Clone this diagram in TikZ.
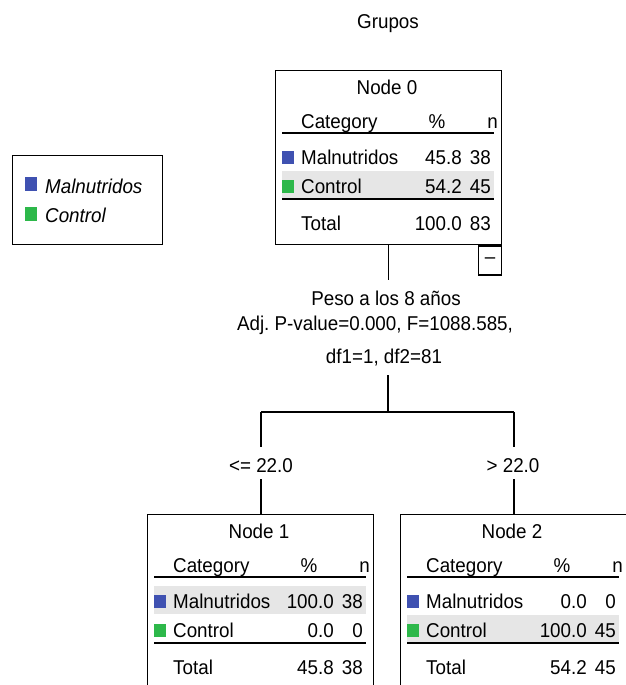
\documentclass[tikz,border=0pt]{standalone}
\usepackage{fontspec}
\setmainfont[FakeStretch=0.94]{Liberation Sans}
\usetikzlibrary{calc}
\frenchspacing
\definecolor{malblue}{HTML}{3F51B1}
\definecolor{ctrgreen}{HTML}{2DB84A}
\definecolor{hlgray}{HTML}{E6E6E6}
\tikzset{
  txt/.style={font=\fontsize{20}{24}\selectfont, inner sep=0pt, text=black},
  boxframe/.style={draw, line width=1.3pt, minimum width=226pt, minimum height=174pt, anchor=north west, inner sep=0pt},
  rulethick/.style={line width=1.8pt},
  conn/.style={line width=1.3pt},
  swatch/.style={minimum width=12pt, minimum height=13pt, inner sep=0pt, anchor=west},
}
% #1 highlighted row, #2 node number, #3 position, #4 p1, #5 n1, #6 p2, #7 n2, #8 ptotal, #9 ntotal
\newcommand\treebox[9][1]{%
  \begin{scope}[shift={#3}]
    \fill[hlgray] (7,{43+29*#1}) rectangle (219,{71+29*#1});
    \node[boxframe] (node#2) at (0,0) {};
    \node[txt, anchor=base] (node#2title) at (112,24) {Node #2};
    \node[txt, anchor=base west] (node#2cat) at (26,58) {Category};
    \node[txt, anchor=base] (node#2pct) at (162,58) {\%};
    \node[txt, anchor=base east] (node#2n) at (223,58) {n};
    \draw[rulethick] (7,63) -- (219,63);
    \node[swatch, fill=malblue] (node#2sw1) at (7,87) {};
    \node[txt, anchor=base west] (node#2l1) at (26,94) {Malnutridos};
    \node[txt, anchor=base east] (node#2p1) at (187,94) {#4};
    \node[txt, anchor=base east] (node#2n1) at (216,94) {#5};
    \node[swatch, fill=ctrgreen] (node#2sw2) at (7,116) {};
    \node[txt, anchor=base west] (node#2l2) at (26,123) {Control};
    \node[txt, anchor=base east] (node#2p2) at (187,123) {#6};
    \node[txt, anchor=base east] (node#2n2) at (216,123) {#7};
    \draw[rulethick] (7,129) -- (219,129);
    \node[txt, anchor=base west] (node#2lt) at (26,160) {Total};
    \node[txt, anchor=base east] (node#2pt) at (187,160) {#8};
    \node[txt, anchor=base east] (node#2nt) at (216,160) {#9};
  \end{scope}%
}
\begin{document}
\begin{tikzpicture}[x=1pt, y=-1pt]
\useasboundingbox (0,0) rectangle (626,685);

\node[txt, anchor=base] (title) at (388,29) {Grupos};

% legend
\node[draw, line width=1.3pt, minimum width=150pt, minimum height=89pt, anchor=north west, inner sep=0pt] (legend) at (12,155) {};
\node[swatch, minimum height=14pt, fill=malblue] (legsw1) at (25,184) {};
\node[txt, anchor=base west] (legl1) at (45,193) {\itshape Malnutridos};
\node[swatch, minimum height=14pt, fill=ctrgreen] (legsw2) at (25,214) {};
\node[txt, anchor=base west] (legl2) at (45,222) {\itshape Control};

% nodes
\treebox[2]{0}{(275,70)}{45.8}{38}{54.2}{45}{100.0}{83}
\node[draw, line width=1.3pt, minimum width=23pt, minimum height=29pt, anchor=north east, inner sep=0pt] (collapse) at (node0.south east) {};
\node[txt, anchor=center] (collapsesign) at (collapse.center) {–};

\treebox[1]{1}{(147,514)}{100.0}{38}{0.0}{0}{45.8}{38}
\treebox[2]{2}{(400,514)}{0.0}{0}{100.0}{45}{54.2}{45}

% split text
\node[txt, anchor=base] (splitA) at (386,305) {Peso a los 8 años};
\node[txt, anchor=base] (splitB) at (375,330) {Adj. P-value=0.000, F=1088.585,};
\node[txt, anchor=base] (splitC) at (384,363) {df1=1, df2=81};

% branch labels
\node[txt, anchor=base] (le) at (261,472) {<= 22.0};
\node[txt, anchor=base] (gt) at (513,472) {> 22.0};

% connectors
\coordinate (stem0) at (388,280);
\coordinate (forkTop) at (388,375);
\coordinate (fork) at (388,412);
\coordinate (forkL) at (261,412);
\coordinate (forkR) at (514,412);
\coordinate (leTop) at (261,447);
\coordinate (gtTop) at (514,447);
\coordinate (leBot) at (261,479);
\coordinate (gtBot) at (514,479);
\draw[conn] (node0.south) -- (node0.south |- stem0);
\draw[conn] (forkTop) -- (fork);
\draw[conn] (forkL) -- (forkR);
\draw[conn] (forkL) -- (leTop);
\draw[conn] (forkR) -- (gtTop);
\draw[conn] (leBot) -- (leBot |- node1.north);
\draw[conn] (gtBot) -- (gtBot |- node2.north);
\end{tikzpicture}
\end{document}
